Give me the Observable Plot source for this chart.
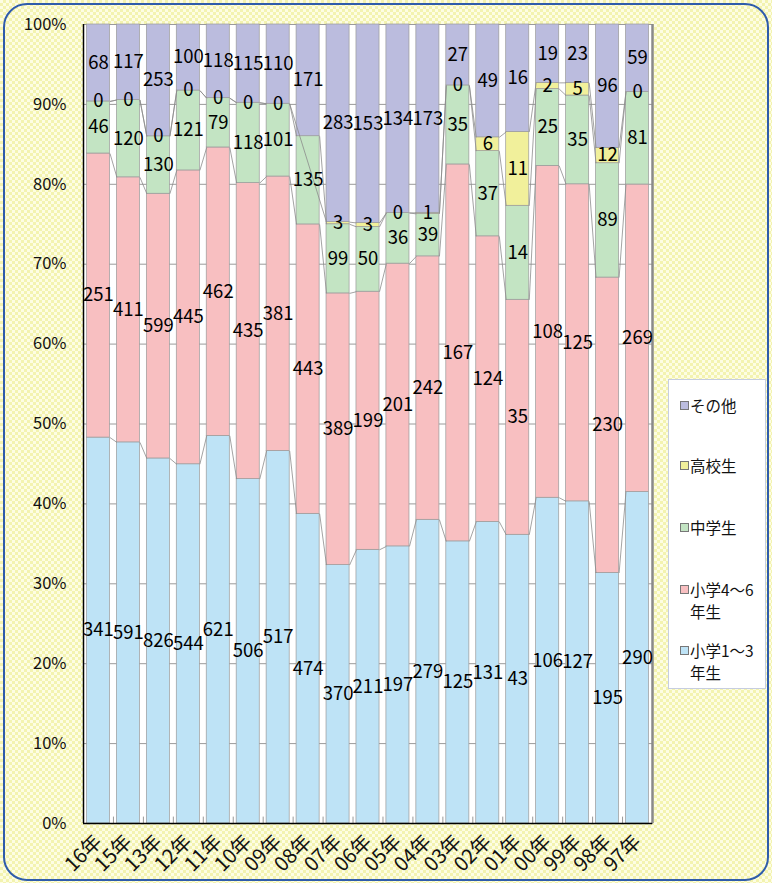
<!DOCTYPE html>
<html><head><meta charset="utf-8">
<script src="https://cdn.jsdelivr.net/npm/d3@7"></script>
<script src="https://cdn.jsdelivr.net/npm/@observablehq/plot@0.6"></script>
<style>
body{margin:0;}
#wrap{position:relative;width:772px;height:883px;overflow:hidden;
  background:repeating-conic-gradient(#f3f3b0 0 25%, #fdfde3 0 50%) 0 0/6px 6px;
  font-family:"Noto Sans CJK JP","Noto Sans",sans-serif;}
#border{position:absolute;left:3px;top:3px;width:762px;height:874px;border:2px solid #2f5cab;border-radius:24px;pointer-events:none;}
#chart{position:absolute;left:0;top:0;}
#legend{position:absolute;left:668px;top:379px;width:98px;height:310px;background:#fff;border:1px solid #c6cde0;box-sizing:border-box;}
.item{position:absolute;left:11px;font-size:15.5px;line-height:22px;color:#111;}
.sw{position:absolute;left:0;top:7px;width:7px;height:7px;border:1px solid #777;}
.lab{position:absolute;left:10px;top:0;width:74px;}
</style></head>
<body>
<div id="wrap"><div id="chart"></div><div id="legend"></div><div id="border"></div></div>
<script>
const years = ["16年","15年","13年","12年","11年","10年","09年","08年","07年","06年","05年","04年","03年","02年","01年","00年","99年","98年","97年"];
const grade1to3 = [341,591,826,544,621,506,517,474,370,211,197,279,125,131,43,106,127,195,290];
const grade4to6 = [251,411,599,445,462,435,381,443,389,199,201,242,167,124,35,108,125,230,269];
const juniorHigh = [46,120,130,121,79,118,101,135,99,50,36,39,35,37,14,25,35,89,81];
const highSchool = [0,0,0,0,0,0,0,null,3,3,0,1,0,6,11,2,5,12,0];
const others = [68,117,253,100,118,115,110,171,283,153,134,173,27,49,16,19,23,96,59];

const seriesNames = ["小学1～3年生","小学4～6年生","中学生","高校生","その他"];
const seriesValues = [grade1to3, grade4to6, juniorHigh, highSchool, others];
const seriesColors = ["#bee3f6","#f8bfc1","#c3e4c3","#f1f09b","#bbbcde"];

const n = years.length;
const half = 0.385;
const rows = [];
const tops = seriesValues.map(() => []);
for (let i = 0; i < n; i++) {
  const total = d3.sum(seriesValues, s => s[i] || 0);
  let cum = 0;
  seriesValues.forEach((s, k) => {
    const v = s[i];
    const y1 = cum / total * 100;
    cum += (v || 0);
    const y2 = cum / total * 100;
    tops[k][i] = v == null ? null : y2;
    rows.push({i, k, v, y1, y2, mid: (y1 + y2) / 2});
  });
}
// series lines between adjacent bars (skipping missing values)
const links = [];
for (let k = 0; k < seriesValues.length - 1; k++) {
  const idx = d3.range(n).filter(i => tops[k][i] != null);
  for (let j = 0; j < idx.length - 1; j++) {
    const a = idx[j], b = idx[j + 1];
    links.push({xa: a + half, ya: tops[k][a], xb: b - half, yb: tops[k][b]});
  }
}

const chart = Plot.plot({
  width: 772, height: 883,
  marginLeft: 83, marginRight: 120, marginTop: 24, marginBottom: 60,
  style: {background: "transparent", fontFamily: "'Noto Sans CJK JP', sans-serif", color: "#111"},
  x: {type: "linear", domain: [-0.5, n - 0.5]},
  y: {domain: [0, 100]},
  marks: [
    Plot.frame({fill: "white", stroke: "#8a8a8a"}),
    Plot.gridY(d3.range(0, 101, 10), {stroke: "#9a9a9a", strokeOpacity: 1}),
    Plot.rect(rows.filter(d => d.v != null), {
      x1: d => d.i - half, x2: d => d.i + half, y1: "y1", y2: "y2",
      fill: d => seriesColors[d.k], stroke: "#9a9a9a", strokeWidth: 0.7
    }),
    Plot.link(links, {x1: "xa", y1: "ya", x2: "xb", y2: "yb", stroke: "#8c8c8c", strokeWidth: 0.8}),
    Plot.ruleX(d3.range(1, n), {x: i => i - 0.5, y1: 0, y2: 0.8, stroke: "#999"}),
    Plot.ruleX([n - 0.5], {stroke: "#8a8a8a", strokeWidth: 2.5}),
    Plot.ruleX([-0.5], {stroke: "#000", strokeWidth: 1.5}),
    Plot.ruleY([0], {stroke: "#000", strokeWidth: 1.5}),
    Plot.text(rows.filter(d => d.v != null), {
      x: "i", y: "mid", text: d => String(d.v), fontSize: 18.5, fill: "#000"
    }),
    Plot.axisY({ticks: d3.range(0, 101, 10), tickFormat: d => d + "%", tickSize: 0, tickPadding: 17, fontSize: 16.5, label: null}),
    Plot.axisX({ticks: d3.range(n), tickFormat: i => years[i], tickRotate: -45, tickSize: 0, tickPadding: 15, fontSize: 20, label: null})
  ]
});
document.getElementById("chart").appendChild(chart);

// legend (top-down order: その他 … 小学1～3年生)
const legend = document.getElementById("legend");
const itemTops = [259, 198, 136, 74, 14];
seriesNames.forEach((name, k) => {
  const it = document.createElement("div");
  it.className = "item";
  it.style.top = itemTops[k] + "px";
  const sw = document.createElement("div");
  sw.className = "sw";
  sw.style.background = seriesColors[k];
  const lab = document.createElement("div");
  lab.className = "lab";
  lab.textContent = name;
  it.appendChild(sw); it.appendChild(lab);
  legend.appendChild(it);
});
</script>
</body></html>
